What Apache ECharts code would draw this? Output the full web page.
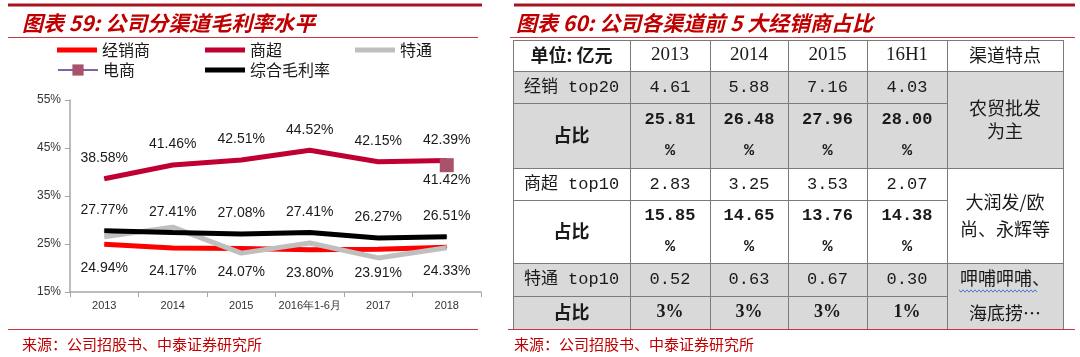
<!DOCTYPE html>
<html>
<head>
<meta charset="utf-8">
<script src="https://cdn.jsdelivr.net/npm/echarts@6/dist/echarts.min.js"></script>
<style>html,body{margin:0;padding:0;background:#fff;}#c{width:1080px;height:357px;}</style>
</head>
<body>
<div id="c"></div>
<script>
// ---------- data: left chart ----------
const categories = ['2013', '2014', '2015', '2016年1-6月', '2017', '2018'];
const jingxiao = [24.94, 24.17, 24.07, 23.80, 23.91, 24.33];     // 经销商
const shangchao = [38.58, 41.46, 42.51, 44.52, 42.15, 42.39];    // 商超
const tetong = [26.5, 28.5, 23.1, 25.2, 22.1, 24.2];             // 特通 (no labels, estimated)
const dianshang = [null, null, null, null, null, 41.42];         // 电商
const zonghe = [27.77, 27.41, 27.08, 27.41, 26.27, 26.51];       // 综合毛利率
const yMin = 15, yMax = 55, yStep = 10;

// ---------- data: right table ----------
const tableHeader = ['单位: 亿元', '2013', '2014', '2015', '16H1', '渠道特点'];
const rowLabels = ['经销 top20', '占比', '商超 top10', '占比', '特通 top10', '占比'];
const jxTop20 = [4.61, 5.88, 7.16, 4.03];
const jxShare = [25.81, 26.48, 27.96, 28.00];
const scTop10 = [2.83, 3.25, 3.53, 2.07];
const scShare = [15.85, 14.65, 13.76, 14.38];
const ttTop10 = [0.52, 0.63, 0.67, 0.30];
const ttShare = [3, 3, 3, 1];
const channelNotes = ['农贸批发\n为主', '大润发/欧\n尚、永辉等', '呷哺呷哺、\n海底捞…'];

const title1 = '图表 59: 公司分渠道毛利率水平';
const title2 = '图表 60: 公司各渠道前 5 大经销商占比';
const source = '来源：公司招股书、中泰证券研究所';

// ---------- layout ----------
const CJK = "'Noto Sans CJK SC', sans-serif";
const MONO = "'Liberation Mono', 'Noto Sans CJK SC', monospace";
const SERIF = "'Liberation Serif', 'Noto Sans CJK SC', serif";
const RED = '#C00000';
const colX = [513, 630, 710, 788, 867, 947, 1063];
const rowY = [40, 71, 103, 168, 200, 263, 296, 329];

const g = [];
function hline(x1, x2, y, color, w) {
  g.push({type: 'line', shape: {x1: x1, y1: y, x2: x2, y2: y}, style: {stroke: color, lineWidth: w}, silent: true});
}
function vline(x, y1, y2, color, w) {
  g.push({type: 'line', shape: {x1: x, y1: y1, x2: x, y2: y2}, style: {stroke: color, lineWidth: w}, silent: true});
}
function txt(s, x, y, opt) {
  opt = opt || {};
  g.push({type: 'text', x: x, y: y, silent: true, z: 10, style: {
    text: s, fill: opt.fill || '#1a1a1a',
    fontSize: opt.size || 17, fontFamily: opt.family || CJK, fontWeight: opt.weight || 'normal',
    fontStyle: opt.style || 'normal',
    align: opt.align || 'center', verticalAlign: 'middle', lineHeight: opt.lh || undefined
  }});
}

// panel decorations
hline(8, 482, 5, '#A8141E', 3);
hline(514, 1075, 5, '#A8141E', 3);
hline(8, 478, 37.5, '#C8383C', 1);
hline(510, 1075, 37.5, '#C8383C', 1);
txt(title1, 22, 23, {fill: RED, size: 21, weight: 'bold', style: 'italic', align: 'left'});
txt(title2, 516, 23, {fill: RED, size: 21, weight: 'bold', style: 'italic', align: 'left'});

// table fills
const grayRows = [1, 2, 5, 6];
grayRows.forEach(function (r) {
  g.push({type: 'rect', shape: {x: colX[0], y: rowY[r], width: colX[6] - colX[0], height: rowY[r + 1] - rowY[r]},
    style: {fill: '#D9D9D9'}, silent: true});
});
// table borders
const BC = '#7b7b7b';
[0, 1, 3, 5].forEach(function (r) { hline(colX[0], colX[6], rowY[r] + 0.5, BC, 1); });
[2, 4, 6].forEach(function (r) { hline(colX[0], colX[5], rowY[r] + 0.5, BC, 1); });
colX.forEach(function (x) { vline(x + 0.5, rowY[0], rowY[7], BC, 1); });

// table text
function cx(c) { return (colX[c] + colX[c + 1]) / 2; }
function cy(r) { return (rowY[r] + rowY[r + 1]) / 2; }
tableHeader.forEach(function (h, c) {
  if (c === 0) txt(h, cx(c), cy(0), {size: 18, weight: 'bold'});
  else if (c === 5) txt(h, cx(c), cy(0), {size: 18});
  else txt(h, cx(c), cy(0), {size: 19, family: SERIF});
});
rowLabels.forEach(function (l, r) {
  const bold = l === '占比';
  txt(l, cx(0), cy(r + 1), {size: bold ? 18 : 17, weight: bold ? 'bold' : 'normal', family: bold ? CJK : MONO});
});
function numRow(arr, r) { arr.forEach(function (v, i) { txt(v.toFixed(2), cx(i + 1), cy(r), {family: MONO, size: 17}); }); }
function shareRow(arr, r, lh) { arr.forEach(function (v, i) { txt(v.toFixed(2) + '\n%', cx(i + 1), cy(r), {family: MONO, size: 17, weight: 'bold', lh: lh}); }); }
numRow(jxTop20, 1);
shareRow(jxShare, 2, 31);
numRow(scTop10, 3);
shareRow(scShare, 4, 31);
numRow(ttTop10, 5);
ttShare.forEach(function (v, i) { txt(v + '%', cx(i + 1), cy(6), {family: SERIF, size: 18, weight: 'bold'}); });
txt(channelNotes[0], cx(5), (rowY[1] + rowY[3]) / 2, {size: 18, lh: 23});
txt(channelNotes[1], cx(5), (rowY[3] + rowY[5]) / 2, {size: 18, lh: 27});
txt(channelNotes[2], cx(5), (rowY[5] + rowY[7]) / 2, {size: 18, lh: 35});
// spell-check wavy underline
(function () {
  const pts = [];
  for (let x = 959, k = 0; x <= 1038; x += 2, k++) pts.push([x, 291 + (k % 2 ? 1.2 : -1.2)]);
  g.push({type: 'polyline', shape: {points: pts}, style: {stroke: '#4A7BD0', lineWidth: 1, fill: null}, silent: true, z: 11});
})();

// footers
hline(8, 478, 329.5, '#C8383C', 1);
hline(508, 1075, 329.5, '#C8383C', 1.2);
txt(source, 22, 344, {fill: RED, size: 15, align: 'left'});
txt(source, 514, 344, {fill: RED, size: 15, align: 'left'});

// ---------- chart ----------
const LABEL_FONT = {fontFamily: "'Liberation Sans', Arial, sans-serif", fontSize: 14, color: '#1a1a1a'};
function fmt(p) { return p.value == null ? '' : Number(p.value).toFixed(2) + '%'; }
function lineSeries(name, data, color, labelPos, dist) {
  const s = {
    name: name, type: 'line', data: data, symbol: 'circle', symbolSize: 1,
    lineStyle: {color: color, width: 5}, itemStyle: {color: color},
    emphasis: {disabled: true}, animation: false
  };
  if (labelPos) s.label = Object.assign({show: true, position: labelPos, distance: dist, formatter: fmt}, LABEL_FONT);
  return s;
}
function legendAt(name, left, top, opts) {
  return Object.assign({
    data: [name], left: left, top: top, padding: 0, itemWidth: 40, itemHeight: 5, icon: 'rect',
    selectedMode: false, textStyle: {fontFamily: CJK, fontSize: 16, color: '#1a1a1a'}
  }, opts || {});
}

const option = {
  animation: false,
  grid: {left: 70, right: 599, top: 100, bottom: 65},
  legend: [
    legendAt('经销商', 57, 42),
    legendAt('商超', 205, 42),
    legendAt('特通', 355, 42),
    legendAt('电商', 57, 62, {icon: undefined, itemHeight: 14}),
    legendAt('综合毛利率', 205, 62)
  ],
  xAxis: {
    type: 'category', data: categories,
    axisLine: {lineStyle: {color: '#A6A6A6', width: 1.5}},
    axisTick: {show: true, length: 5, lineStyle: {color: '#A6A6A6'}},
    axisLabel: {interval: 0, fontFamily: "'Liberation Sans', Arial, sans-serif", fontSize: 11, color: '#333', margin: 8}
  },
  yAxis: {
    type: 'value', min: yMin, max: yMax, interval: yStep,
    axisLine: {show: true, lineStyle: {color: '#A6A6A6', width: 1.5}},
    axisTick: {show: true, length: 5, lineStyle: {color: '#A6A6A6'}},
    splitLine: {show: false},
    axisLabel: {formatter: '{value}%', fontFamily: "'Liberation Sans', Arial, sans-serif", fontSize: 12, color: '#333', margin: 9}
  },
  series: [
    lineSeries('经销商', jingxiao, '#FF0000', 'bottom', 16),
    lineSeries('商超', shangchao, '#C00032', 'top', 13),
    lineSeries('特通', tetong, '#BFBFBF', null, 0),
    {
      name: '电商', type: 'line', data: dianshang, symbol: 'rect', symbolSize: 14,
      lineStyle: {color: '#8064A2', width: 5}, itemStyle: {color: '#A8526C'},
      label: Object.assign({show: true, position: 'bottom', distance: 1, formatter: fmt}, LABEL_FONT),
      emphasis: {disabled: true}
    },
    lineSeries('综合毛利率', zonghe, '#000000', 'top', 13)
  ],
  graphic: {elements: g}
};

const chart = echarts.init(document.getElementById('c'), null, {renderer: 'canvas'});
chart.setOption(option);
</script>
</body>
</html>
